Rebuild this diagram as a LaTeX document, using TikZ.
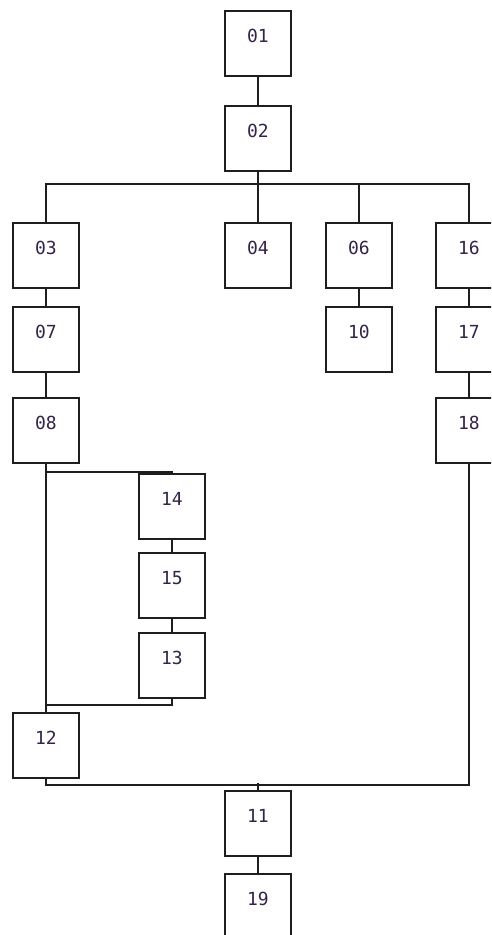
\documentclass[tikz,border=0pt]{standalone}
\usepackage{fontspec}
\newfontfamily\numfont{DejaVu Sans Mono}
\definecolor{txt}{RGB}{52,36,72}
\definecolor{ln}{RGB}{30,30,30}
\begin{document}
\begin{tikzpicture}[x=1pt,y=-1pt,
  stepbox/.style={draw=ln,line width=1.7pt,rectangle,anchor=north west,
    minimum width=66pt,minimum height=65pt,inner sep=0pt,
    text height=32pt,text depth=33pt,text width=66pt,align=center,
    font=\numfont\fontsize{18}{20}\selectfont,text=txt},
  wire/.style={draw=ln,line width=1.7pt}]
\useasboundingbox (0,0) rectangle (491,935);
\clip (0,0) rectangle (491,935);
\fill[white] (0,0) rectangle (491,935);
\node[stepbox] (n01) at (224,10) {01};
\node[stepbox] (n02) at (224,105) {02};
\node[stepbox] (n03) at (12,222) {03};
\node[stepbox] (n04) at (224,222) {04};
\node[stepbox] (n06) at (325,222) {06};
\node[stepbox] (n16) at (435,222) {16};
\node[stepbox] (n07) at (12,306) {07};
\node[stepbox] (n10) at (325,306) {10};
\node[stepbox] (n17) at (435,306) {17};
\node[stepbox] (n08) at (12,397) {08};
\node[stepbox] (n18) at (435,397) {18};
\node[stepbox] (n14) at (138,473) {14};
\node[stepbox] (n15) at (138,552) {15};
\node[stepbox] (n13) at (138,632) {13};
\node[stepbox] (n12) at (12,712) {12};
\node[stepbox] (n11) at (224,790) {11};
\node[stepbox] (n19) at (224,873) {19};
\coordinate (topbar) at (256,184);
\coordinate (joinL) at (45,705);
\coordinate (lowbar) at (257,783);
% top
\draw[wire] (n01.south) -- (n02.north);
\draw[wire] (n02.south) -- (n02.south |- topbar);
\draw[wire] (n03.north) -- (n03.north |- topbar) -| (n16.north);
\draw[wire] (n04.north) -- (n04.north |- topbar);
\draw[wire] (n06.north) -- (n06.north |- topbar);
% chains
\draw[wire] (n03.south) -- (n07.north);
\draw[wire] (n07.south) -- (n08.north);
\draw[wire] (n06.south) -- (n10.north);
\draw[wire] (n16.south) -- (n17.north);
\draw[wire] (n17.south) -- (n18.north);
% parallel branch
\draw[wire] (n08.south) -- (n12.north);
\draw[wire] (n08.south) -- ++(0,8) -| (n14.north);
\draw[wire] (n14.south) -- (n15.north);
\draw[wire] (n15.south) -- (n13.north);
\draw[wire] (n13.south) |- (joinL);
% bottom
\draw[wire] (n12.south) -- ++(0,6) -| (n18.south);
\draw[wire] (n11.north) -- (n11.north |- lowbar);
\draw[wire] (n11.south) -- (n19.north);
\end{tikzpicture}
\end{document}
